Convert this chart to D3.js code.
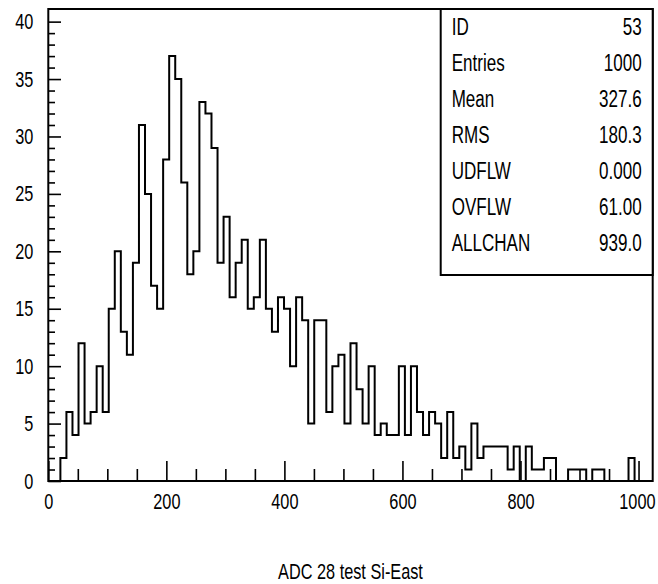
<!DOCTYPE html>
<html>
<head>
<meta charset="utf-8">
<script src="https://cdn.jsdelivr.net/npm/d3@7"></script>
<style>
  body { margin: 0; background: #fff; }
  text { font-family: "Liberation Sans", Arial, sans-serif; fill: #000; }
</style>
</head>
<body>
<div id="chart"></div>
<script>
const width = 658;
const height = 584;

// histogram: 100 bins over 0..1024
const binLow = 0;
const binHigh = 1024;
const counts = [
  0, 0, 2, 6, 4, 12, 5, 6, 10, 6,
  15, 20, 13, 11, 19, 31, 25, 17, 15, 28,
  37, 35, 26, 18, 20, 33, 32, 29, 19, 23,
  16, 19, 21, 15, 16, 21, 15, 13, 16, 15,
  10, 16, 14, 5, 14, 14, 6, 10, 11, 5,
  12, 8, 5, 10, 4, 5, 4, 4, 10, 4,
  10, 6, 4, 6, 5, 2, 6, 2, 3, 1,
  5, 2, 3, 3, 3, 3, 1, 3, 0, 3,
  1, 1, 2, 2, 0, 0, 1, 1, 1, 0,
  1, 1, 0, 0, 0, 0, 2, 0, 0, 0
];

const xMajorTicks = [0, 200, 400, 600, 800, 1000];
const yMajorTicks = [0, 5, 10, 15, 20, 25, 30, 35, 40];
const yMax = 41.1;

const statNames = ["ID", "Entries", "Mean", "RMS", "UDFLW", "OVFLW", "ALLCHAN"];
const statValues = ["53", "1000", "327.6", "180.3", "0.000", "61.00", "939.0"];

const xTitle = "ADC 28 test Si-East";

const frame = { left: 48.3, right: 652.7, top: 9, bottom: 481 };

// the PAW font is narrow, squeeze glyphs horizontally
const squeeze = 0.74;

const svg = d3
  .select("#chart")
  .append("svg")
  .attr("width", width)
  .attr("height", height);

const x = d3.scaleLinear().domain([binLow, binHigh]).range([frame.left, frame.right]);
const y = d3.scaleLinear().domain([0, yMax]).range([frame.bottom, frame.top]);

const binWidth = (binHigh - binLow) / counts.length;

// AXES

const xMinor = d3.range(0, 1001, 50).filter((d) => d % 200 != 0);
const yMinor = d3.range(0, 41, 1).filter((d) => d % 5 != 0);

const xAxisG = svg.append("g").attr("transform", `translate(0, ${frame.bottom})`);
xAxisG.append("g")
  .call(d3.axisBottom(x).tickValues(xMinor).tickSize(-12).tickFormat(""));
const xMajorG = xAxisG.append("g")
  .call(d3.axisBottom(x).tickValues(xMajorTicks).tickSize(-20).tickPadding(12).tickFormat(d3.format("d")));

const yAxisG = svg.append("g").attr("transform", `translate(${frame.left}, 0)`);
yAxisG.append("g")
  .call(d3.axisLeft(y).tickValues(yMinor).tickSize(-6.7).tickFormat(""));
yAxisG.append("g")
  .call(d3.axisLeft(y).tickValues(yMajorTicks).tickSize(-12.7).tickPadding(15).tickFormat(d3.format("d")));

svg.selectAll(".domain").remove();
svg.selectAll(".tick line").attr("stroke", "#000").attr("stroke-width", 1.6);
svg.selectAll(".tick text").attr("font-size", 22).attr("font-family", null);

// last label sits against the right edge of the page
xMajorG.selectAll(".tick text")
  .filter((d) => d == 1000)
  .attr("text-anchor", "end")
  .attr("x", width - 3 - x(1000));

// HISTOGRAM

const points = counts.map((c, i) => [binLow + i * binWidth, c]);
points.push([binHigh, 0]);

const line = d3
  .line()
  .x((d) => x(d[0]))
  .y((d) => y(d[1]))
  .curve(d3.curveStepAfter);

svg.append("path")
  .attr("d", line(points))
  .attr("fill", "none")
  .attr("stroke", "#000")
  .attr("stroke-width", 2);

// FRAME

svg.append("rect")
  .attr("x", frame.left)
  .attr("y", frame.top)
  .attr("width", frame.right - frame.left)
  .attr("height", frame.bottom - frame.top)
  .attr("fill", "none")
  .attr("stroke", "#000")
  .attr("stroke-width", 2);

// STATS BOX

const box = { left: 440.7, bottom: 275, rowTop: 27, rowStep: 36 };

svg.append("rect")
  .attr("x", box.left)
  .attr("y", frame.top)
  .attr("width", frame.right - box.left)
  .attr("height", box.bottom - frame.top)
  .attr("fill", "#fff")
  .attr("stroke", "#000")
  .attr("stroke-width", 2);

const rows = svg.append("g")
  .selectAll("g")
  .data(statNames)
  .enter()
  .append("g")
  .attr("transform", (d, i) => `translate(0, ${box.rowTop + i * box.rowStep})`);

rows.append("text")
  .attr("x", box.left + 11)
  .attr("dy", "0.36em")
  .attr("font-size", 23)
  .text((d) => d);

rows.append("text")
  .attr("x", frame.right - 11)
  .attr("dy", "0.36em")
  .attr("font-size", 23)
  .attr("text-anchor", "end")
  .text((d, i) => statValues[i]);

// X TITLE

svg.append("text")
  .attr("x", (frame.left + frame.right) / 2)
  .attr("y", 579)
  .attr("text-anchor", "middle")
  .attr("font-size", 22)
  .text(xTitle);

svg.selectAll("text").each(function () {
  const len = this.getComputedTextLength();
  if (len > 0) {
    d3.select(this)
      .attr("textLength", len * squeeze)
      .attr("lengthAdjust", "spacingAndGlyphs");
  }
});
</script>
</body>
</html>
